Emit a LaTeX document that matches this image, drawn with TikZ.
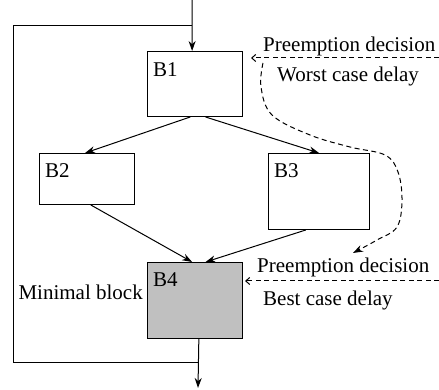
\documentclass[tikz,border=0pt]{standalone}
\usepackage{fontspec}
\setmainfont{Liberation Serif}
\usetikzlibrary{arrows.meta,calc}
\definecolor{blockgray}{HTML}{C0C0C0}
\tikzset{
  blk/.style={draw, line width=1pt, anchor=north west, inner sep=0pt},
  lbl/.style={font=\fontsize{21}{24}\selectfont, inner sep=0pt},
  flow/.style={line width=1pt, -{Stealth[length=10pt,width=7pt]}},
  dsh/.style={line width=1pt, dash pattern=on 5pt off 3.5pt},
}
\begin{document}
\begin{tikzpicture}[x=1pt,y=1pt]
\useasboundingbox (0,0) rectangle (439,390);
% blocks
\node[blk, minimum width=95pt, minimum height=65pt] (b1) at (147,339) {};
\node[blk, minimum width=95pt, minimum height=51pt] (b2) at (39,237) {};
\node[blk, minimum width=101pt, minimum height=76pt] (b3) at (268,237) {};
\node[blk, fill=blockgray, minimum width=95pt, minimum height=76pt] (b4) at (147,128) {};
% block labels
\node[lbl, anchor=base west] (t1) at ($(b1.north west)+(6,-26)$) {B1};
\node[lbl, anchor=base west] (t2) at ($(b2.north west)+(6,-25)$) {B2};
\node[lbl, anchor=base west] (t3) at ($(b3.north west)+(6,-25)$) {B3};
\node[lbl, anchor=base west] (t4) at ($(b4.north west)+(6,-25)$) {B4};
% texts
\node[lbl, anchor=base west] (pd1) at (263,338) {Preemption decision};
\node[lbl, anchor=base west] (wc) at (277,308) {Worst case delay};
\node[lbl, anchor=base west] (pd2) at (257,117) {Preemption decision};
\node[lbl, anchor=base west] (bc) at (263,84) {Best case delay};
\node[lbl, anchor=base east] (mb) at (143,90) {Minimal block};
% coordinates
\coordinate (in) at (192,390);
\coordinate (out) at (198,2);
\coordinate (lt) at (13,364);
\coordinate (lb) at (13,27);
\coordinate (d1) at (439,332);
\coordinate (d2) at (439,109);
% loop and in/out
\draw[flow] (in) -- ($(b1.north west)!0.47!(b1.north east)$);
\draw[line width=1pt] (192,364) -- (lt) -- (lb) -- (198,27);
\draw[flow] ($(b4.south west)!0.54!(b4.south east)$) -- (out);
% edges
\draw[flow] ($(b1.south west)!0.45!(b1.south east)$) -- ($(b2.north west)!0.48!(b2.north east)$);
\draw[flow] ($(b1.south west)!0.61!(b1.south east)$) -- ($(b3.north west)!0.5!(b3.north east)$);
\draw[flow] ($(b2.south west)!0.54!(b2.south east)$) -- ($(b4.north west)!0.47!(b4.north east)$);
\draw[flow] ($(b3.south west)!0.37!(b3.south east)$) -- ($(b4.north west)!0.61!(b4.north east)$);
% preemption dashed arrows
\draw[dsh, -{Straight Barb[length=4pt,width=7pt]}] (d1) -- ([xshift=8pt]b1.east |- d1);
\draw[dsh, -{Straight Barb[length=4pt,width=7pt]}] (d2) -- ([xshift=2pt]b4.east |- d2);
% dashed curve
\draw[dsh, -{Stealth[length=10pt,width=7pt]}] plot[smooth, tension=0.6] coordinates {(263,327) (261,303) (272,275) (310,255) (350,243) (385,235) (398,218) (402,190) (397,163) (377,150) (353,137)};
\end{tikzpicture}
\end{document}
